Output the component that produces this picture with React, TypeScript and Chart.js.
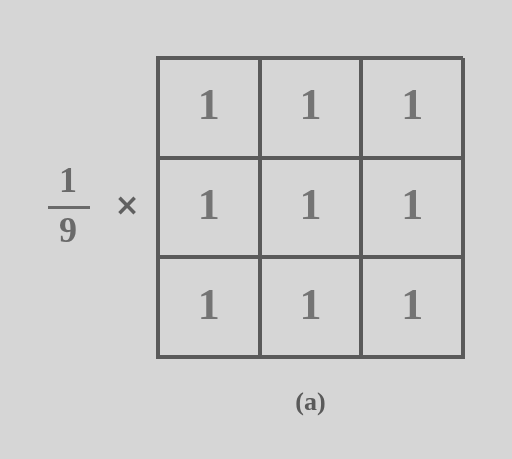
import React, { useEffect, useRef } from "react";
import { Chart, registerables } from "chart.js";

Chart.register(...registerables);

const columns = [0, 1, 2];
const rows = [0, 1, 2];
const cellValues = [
  [1, 1, 1],
  [1, 1, 1],
  [1, 1, 1],
];
const scaleNumerator = "1";
const scaleDenominator = "9";
const caption = "(a)";

const BG = "#d6d6d6";
const LINE = "#5a5a5a";
const TEXT = "#747474";

const points: { x: number; y: number; v: number }[] = [];
rows.forEach((r) =>
  columns.forEach((c) => points.push({ x: c + 0.5, y: r + 0.5, v: cellValues[r][c] }))
);

const labelPlugin = {
  id: "cellLabels",
  beforeDraw(chart: any) {
    const { ctx } = chart;
    ctx.save();
    ctx.fillStyle = BG;
    ctx.fillRect(0, 0, chart.width, chart.height);
    ctx.restore();
  },
  afterDraw(chart: any) {
    const { ctx, chartArea } = chart;
    const meta = chart.getDatasetMeta(0);
    ctx.save();
    ctx.fillStyle = TEXT;
    ctx.textAlign = "center";
    ctx.textBaseline = "middle";
    ctx.font = "bold 44px 'Liberation Serif', serif";
    meta.data.forEach((el: any, i: number) => {
      ctx.fillText(String(points[i].v), el.x, el.y);
    });
    // fraction 1/9 ×
    const midY = (chartArea.top + chartArea.bottom) / 2;
    const fx = chartArea.left - 90;
    ctx.font = "bold 36px 'Liberation Serif', serif";
    ctx.fillStyle = "#6a6a6a";
    ctx.fillText(scaleNumerator, fx, midY - 25);
    ctx.fillText(scaleDenominator, fx, midY + 25);
    ctx.fillRect(fx - 20, midY - 1.5, 42, 3);
    ctx.font = "bold 30px 'DejaVu Sans', sans-serif";
    ctx.fillStyle = "#606060";
    ctx.fillText("×", chartArea.left - 31, midY);
    // caption
    ctx.font = "bold 26px 'Liberation Serif', serif";
    ctx.fillStyle = "#5a5a5a";
    ctx.fillText(caption, (chartArea.left + chartArea.right) / 2, chartArea.bottom + 46);
    ctx.restore();
  },
};

export default function App() {
  const ref = useRef<HTMLCanvasElement>(null);
  useEffect(() => {
    if (!ref.current) return;
    const chart = new Chart(ref.current, {
      type: "scatter",
      data: {
        datasets: [
          {
            data: points.map((p) => ({ x: p.x, y: p.y })),
            pointRadius: 0,
          },
        ],
      },
      options: {
        animation: false,
        responsive: false,
        maintainAspectRatio: false,
        layout: { padding: { left: 158, right: 49, top: 58, bottom: 102 } },
        plugins: { legend: { display: false }, tooltip: { enabled: false } },
        scales: {
          x: {
            type: "linear",
            min: 0,
            max: 3,
            ticks: { display: false, stepSize: 1 },
            grid: { color: LINE, lineWidth: 4, drawTicks: false },
            border: { display: true, color: LINE, width: 4 },
          },
          y: {
            type: "linear",
            reverse: true,
            min: 0,
            max: 3,
            ticks: { display: false, stepSize: 1 },
            grid: { color: LINE, lineWidth: 4, drawTicks: false },
            border: { display: true, color: LINE, width: 4 },
          },
        },
      },
      plugins: [labelPlugin],
    });
    return () => chart.destroy();
  }, []);
  return (
    <div style={{ position: "fixed", left: 0, top: 0, width: 512, height: 459, background: BG }}>
      <canvas ref={ref} width={512} height={459} />
    </div>
  );
}
